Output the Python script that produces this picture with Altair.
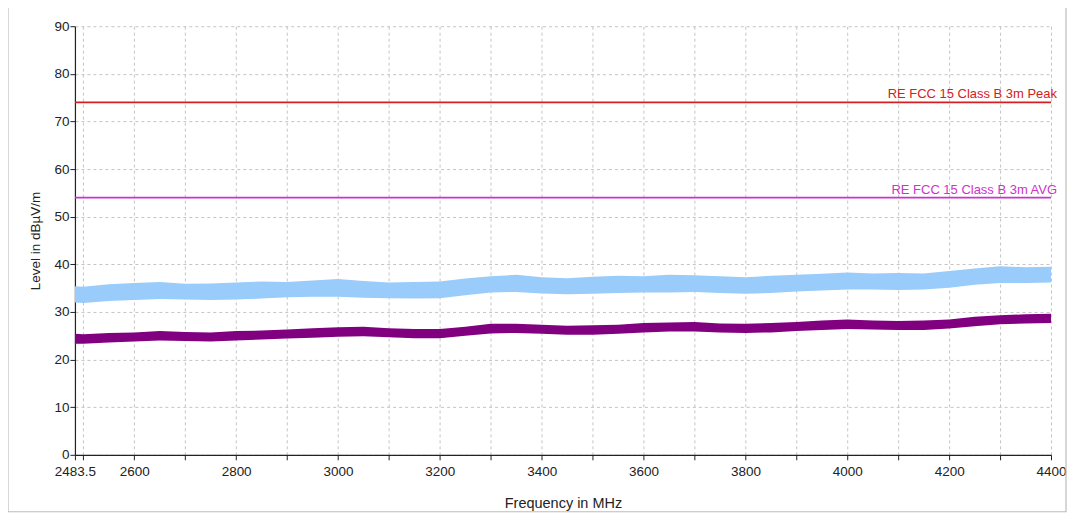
import altair as alt
import pandas as pd

# ---- data ----
freq = [2483.5, 2500, 2550, 2600, 2650, 2700, 2750, 2800, 2850, 2900, 2950, 3000,
        3050, 3100, 3150, 3200, 3250, 3300, 3350, 3400, 3450, 3500, 3550, 3600,
        3650, 3700, 3750, 3800, 3850, 3900, 3950, 4000, 4050, 4100, 4150, 4200,
        4250, 4300, 4350, 4400]

peak_hi = [35.4, 35.3, 35.8, 36.1, 36.3, 35.9, 36.0, 36.2, 36.4, 36.3, 36.6, 36.9,
           36.5, 36.2, 36.3, 36.4, 37.0, 37.5, 37.8, 37.3, 37.1, 37.4, 37.6, 37.5,
           37.8, 37.7, 37.5, 37.3, 37.6, 37.8, 38.0, 38.3, 38.1, 38.2, 38.1, 38.6,
           39.1, 39.6, 39.4, 39.5]
peak_lo = [32.0, 31.9, 32.3, 32.5, 32.7, 32.6, 32.5, 32.6, 32.8, 33.1, 33.2, 33.2,
           33.0, 32.9, 32.8, 32.9, 33.5, 34.1, 34.2, 33.9, 33.7, 33.8, 34.0, 34.1,
           34.1, 34.2, 34.0, 33.8, 34.0, 34.3, 34.5, 34.7, 34.7, 34.6, 34.7, 35.1,
           35.7, 36.1, 36.1, 36.2]

avg_hi = [25.4, 25.3, 25.6, 25.7, 26.0, 25.8, 25.7, 26.0, 26.1, 26.3, 26.6, 26.8,
          26.9, 26.6, 26.4, 26.4, 26.9, 27.5, 27.5, 27.3, 27.1, 27.2, 27.3, 27.7,
          27.8, 27.9, 27.6, 27.5, 27.7, 27.9, 28.2, 28.4, 28.2, 28.1, 28.2, 28.4,
          29.0, 29.3, 29.5, 29.6]
avg_lo = [23.3, 23.3, 23.6, 23.8, 24.0, 23.9, 23.8, 24.0, 24.2, 24.4, 24.6, 24.8,
          24.9, 24.7, 24.5, 24.5, 25.0, 25.5, 25.6, 25.4, 25.2, 25.2, 25.4, 25.7,
          25.9, 25.9, 25.7, 25.6, 25.7, 26.0, 26.2, 26.4, 26.3, 26.2, 26.2, 26.5,
          27.0, 27.4, 27.6, 27.7]

limit_names = ["RE FCC 15 Class B 3m Peak", "RE FCC 15 Class B 3m AVG"]
limit_levels = [74, 54]
limit_colors = ["#d42020", "#cc33cc"]

x_ticks = [2483.5] + list(range(2500, 4401, 100))
y_ticks = list(range(0, 91, 5))

F_MIN, F_MAX = 2483.5, 4400

# ---- tables ----
peak_df = pd.DataFrame({"f": freq, "hi": peak_hi, "lo": peak_lo})
avg_df = pd.DataFrame({"f": freq, "hi": avg_hi, "lo": avg_lo})
lim_df = pd.DataFrame({"name": limit_names, "level": limit_levels,
                       "color": limit_colors, "f0": F_MIN, "f1": F_MAX})

FONT = "Liberation Sans"

xscale = alt.Scale(domain=[F_MIN, F_MAX], nice=False, zero=False)
yscale = alt.Scale(domain=[0, 90], nice=False)

xaxis = alt.Axis(
    title="Frequency in MHz", values=x_ticks,
    labelExpr="datum.value == 2483.5 ? '2483.5' : (datum.value % 200 == 0 ? format(datum.value, 'd') : '')",
    labelFlush=False, labelOverlap=False, tickSize=5, labelPadding=5,
    titlePadding=18, titleFontSize=14.5,
)
yaxis = alt.Axis(
    title="Level in dBµV/m", values=y_ticks,
    labelExpr="datum.value % 10 == 0 ? datum.label : ''",
    labelOverlap=False, tickSize=5, labelPadding=1, titlePadding=11,
    titleFontSize=13.5,
)

peak_area = alt.Chart(peak_df).mark_area(color="#99ccfa", opacity=1).encode(
    x=alt.X("f:Q", scale=xscale, axis=xaxis),
    y=alt.Y("hi:Q", scale=yscale, axis=yaxis),
    y2="lo:Q",
)

avg_area = alt.Chart(avg_df).mark_area(color="#800080", opacity=1).encode(
    x=alt.X("f:Q", scale=xscale),
    y=alt.Y("hi:Q", scale=yscale),
    y2="lo:Q",
)

lim_rules = alt.Chart(lim_df).mark_rule(strokeWidth=1.6).encode(
    x=alt.X("f0:Q", scale=xscale),
    x2="f1:Q",
    y=alt.Y("level:Q", scale=yscale),
    color=alt.Color("color:N", scale=None, legend=None),
)

lim_text = alt.Chart(lim_df).mark_text(
    align="right", baseline="alphabetic", dx=6, dy=-4, font=FONT, fontSize=13,
).encode(
    x=alt.X("f1:Q", scale=xscale),
    y=alt.Y("level:Q", scale=yscale),
    text="name:N",
    color=alt.Color("color:N", scale=None, legend=None),
)

border = alt.Chart(pd.DataFrame({"k": [0]})).mark_rect(
    fill=None, stroke="#bdbdbd", strokeWidth=1.2,
).encode(
    x=alt.value(-67), x2=alt.value(992), y=alt.value(-20), y2=alt.value(486),
)

chart = alt.layer(border, peak_area, avg_area, lim_rules, lim_text).properties(
    width=977, height=429,
    autosize=alt.AutoSizeParams(type="none"),
    padding={"left": 67, "top": 18, "right": 16, "bottom": 60},
    background="white",
).configure_view(
    strokeWidth=0,
).configure_axis(
    domainColor="#222222", domainWidth=1.2, tickColor="#222222",
    labelColor="#222222", labelFont=FONT, labelFontSize=13.5,
    titleColor="#222222", titleFont=FONT, titleFontWeight="normal",
    gridColor="#c4c4c4", gridDash=[3, 3], gridWidth=1,
)

chart.save("out.html", embed_options={"renderer": "svg", "actions": False})
